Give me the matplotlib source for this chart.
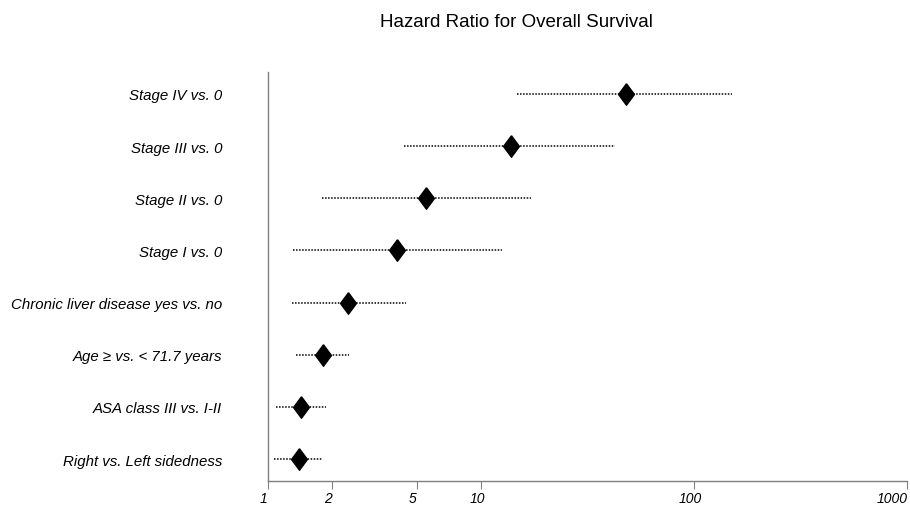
import matplotlib
matplotlib.use("Agg")
import matplotlib.pyplot as plt
import matplotlib.transforms as mtransforms
import numpy as np

plt.rcParams['font.family'] = ['Liberation Sans', 'DejaVu Sans']

# rows from bottom to top
labels = ["Right vs. Left sidedness", "ASA class III vs. I-II", "Age \u2265 vs. < 71.7 years",
          "Chronic liver disease yes vs. no", "Stage I vs. 0", "Stage II vs. 0",
          "Stage III vs. 0", "Stage IV vs. 0"]
hr = [1.40, 1.43, 1.81, 2.37, 4.03, 5.52, 13.8, 48.0]
ci_low = [1.07, 1.09, 1.35, 1.30, 1.31, 1.79, 4.35, 14.8]
ci_high = [1.79, 1.87, 2.40, 4.44, 12.6, 17.2, 42.6, 150.0]
xticks = [1, 2, 5, 10, 100, 1000]

fig = plt.figure(figsize=(9.10, 5.06), dpi=100)
ax = fig.add_axes([0.2945, 0.0474, 0.7022, 0.8083])

y = np.arange(len(labels))
ax.hlines(y, ci_low, ci_high, colors='black', linestyles=(0, (1, 1)), linewidth=1.1)
diamond = [(0, 1.15), (0.85, 0), (0, -1.15), (-0.85, 0), (0, 1.15)]
ax.plot(hr, y, linestyle='none', marker=diamond, markersize=15.5, color='black')

ax.set_xscale('log')
ax.set_xlim(1, 1000)
ax.set_ylim(-0.42, len(labels) - 1 + 0.42)
ax.set_xticks(xticks)
ax.set_xticklabels([str(t) for t in xticks], fontstyle='italic', fontsize=10)
ax.xaxis.set_minor_locator(matplotlib.ticker.NullLocator())
ax.tick_params(axis='x', length=5.5, color='#808080', pad=1.5)
shift = mtransforms.ScaledTranslation(-4 / 100, 0, fig.dpi_scale_trans)
for lab in ax.get_xticklabels():
    lab.set_transform(lab.get_transform() + shift)
last = ax.get_xticklabels()[-1]
last.set_horizontalalignment('right')
last.set_transform(last.get_transform() + mtransforms.ScaledTranslation(5 / 100, 0, fig.dpi_scale_trans))

ax.set_yticks(y)
ax.set_yticklabels(labels, fontstyle='italic', fontsize=10.8)
ax.tick_params(axis='y', length=0, pad=33)

for s in ['top', 'right']:
    ax.spines[s].set_visible(False)
for s in ['left', 'bottom']:
    ax.spines[s].set_color('#808080')
    ax.spines[s].set_linewidth(1)

fig.text(0.567, 0.955, "Hazard Ratio for Overall Survival", ha='center', va='center', fontsize=13.5)

fig.savefig("out.png", dpi=100)
